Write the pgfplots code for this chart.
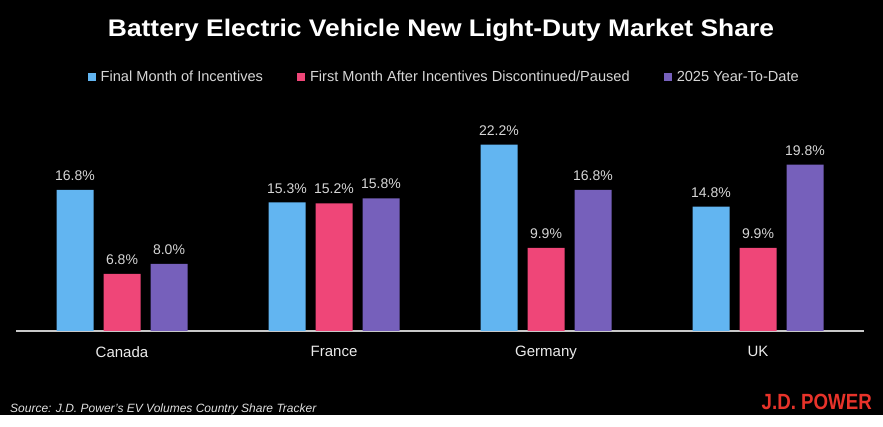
\documentclass[border=0pt]{standalone}
\usepackage{pgfplots}
\pgfplotsset{compat=1.18}
\usepackage{pgfplotstable}
\usepackage{fontspec}
\setmainfont{Liberation Sans}

\definecolor{bevblue}{HTML}{62B5F1}
\definecolor{bevpink}{HTML}{EF4678}
\definecolor{bevpurple}{HTML}{7660BB}
\definecolor{labelgray}{HTML}{D6D6D6}
\definecolor{axisgray}{HTML}{C8C8C8}
\definecolor{jdred}{HTML}{E8332A}

% BEV share of new light-duty sales (%), one table per period
% idx: 0 Canada, 1 France, 2 Germany, 3 UK
\pgfplotstableread{
idx share
0 16.8
1 15.3
2 22.2
3 14.8
}\finalmonth
\pgfplotstableread{
idx share
0 6.8
1 15.2
2 9.9
3 9.9
}\firstafter
\pgfplotstableread{
idx share
0 8.0
1 15.8
2 16.8
3 19.8
}\ytd

\begin{document}
\begin{tikzpicture}
\fill[black] (0pt,0pt) rectangle (883pt,427pt);
\fill[white] (0pt,0pt) rectangle (883pt,12pt);
\useasboundingbox (0pt,0pt) rectangle (883pt,427pt);

\node[anchor=base, white, font=\bfseries\fontsize{24}{28}\selectfont] at (441pt,390pt)
  {\scalebox{1.1}[1]{Battery Electric Vehicle New Light-Duty Market Share}};

\begin{axis}[
  at={(16pt,96pt)}, anchor=south west, scale only axis,
  width=848pt, height=210pt,
  xmin=-0.5, xmax=3.5, ymin=0, ymax=25,
  axis x line*=bottom, axis y line=none,
  x axis line style={draw=axisgray, line width=1.3pt, -},
  xtick={0,1,2,3}, xticklabels={Canada,France,Germany,UK},
  major tick length=0pt,
  xticklabel style={font=\fontsize{15}{18}\selectfont, text=white!92!black,
    anchor=north, inner sep=0pt, yshift=-15pt},
  ybar, bar width=37pt,
  /pgf/number format/assume math mode=true,
  nodes near coords={\pgfmathprintnumber[fixed,fixed zerofill,precision=1]{\pgfplotspointmeta}\%},
  every node near coord/.append style={font=\fontsize{14}{16}\selectfont,
    text=labelgray, anchor=south, inner sep=0pt, yshift=9pt},
  legend columns=3,
  legend style={at={(0.505,1.2095)}, anchor=center, draw=none, fill=none,
    text=labelgray, font=\fontsize{14.6}{16}\selectfont,
    nodes={inner sep=2pt},
    /tikz/every odd column/.append style={column sep=3pt},
    /tikz/every even column/.append style={column sep=32pt}},
  legend image code/.code={\fill[#1] (0pt,-4.25pt) rectangle (8pt,4.25pt);},
]
\addplot[fill=bevblue, draw=none, bar shift=-47pt] table[x=idx, y=share] {\finalmonth};
\addlegendentry{Final Month of Incentives}
\addplot[fill=bevpink, draw=none, bar shift=0pt] table[x=idx, y=share] {\firstafter};
\addlegendentry{First Month After Incentives Discontinued/Paused}
\addplot[fill=bevpurple, draw=none, bar shift=47pt] table[x=idx, y=share] {\ytd};
\addlegendentry{2025 Year-To-Date}
\end{axis}

\node[anchor=base west, inner sep=0pt, text=white!88!black, font=\itshape\fontsize{12}{14}\selectfont] at (10pt,14pt)
  {Source: J.D. Power’s EV Volumes Country Share Tracker};
\node[anchor=base east, inner sep=0pt, text=jdred, font=\bfseries\fontsize{22}{24}\selectfont] at (872pt,17pt)
  {\scalebox{0.85}[1]{J.D. POWER}};
\end{tikzpicture}
\end{document}
